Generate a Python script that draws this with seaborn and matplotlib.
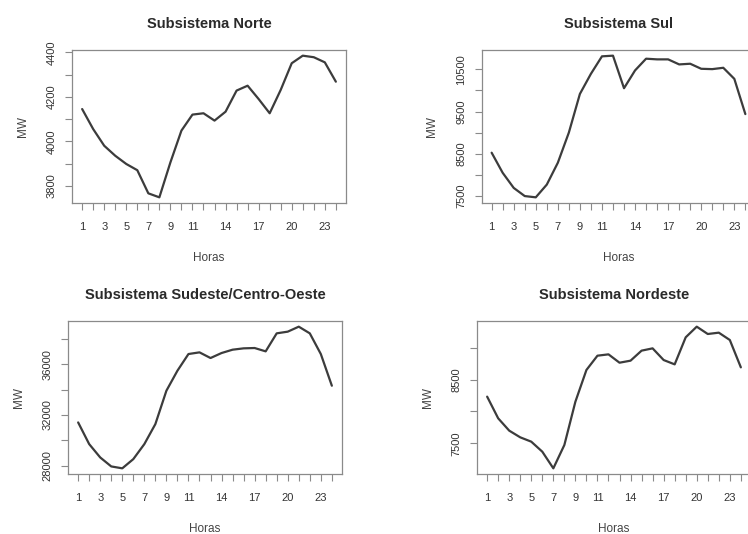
import numpy as np
import pandas as pd
import seaborn as sns
import matplotlib
matplotlib.use("Agg")
import matplotlib.pyplot as plt

# carga horaria por subsistema (MW)
horas = list(range(1, 25))
norte = [4145, 4055, 3980, 3935, 3898, 3870, 3766, 3748, 3905, 4048, 4120, 4126,
         4093, 4133, 4228, 4250, 4190, 4126, 4231, 4351, 4385, 4378, 4355, 4268]
sul = [8521, 8043, 7684, 7490, 7460, 7763, 8282, 9000, 9918, 10397, 10812, 10828,
       10054, 10477, 10756, 10740, 10740, 10620, 10636, 10516, 10508, 10540, 10277, 9439]
sudeste = [31419, 29710, 28658, 27950, 27800, 28526, 29710, 31288, 33917, 35495, 36810, 36942,
           36495, 36889, 37152, 37258, 37284, 37021, 38441, 38573, 38967, 38441, 36810, 34312]
nordeste = [8232, 7892, 7699, 7594, 7526, 7369, 7108, 7474, 8153, 8650, 8874, 8895,
            8764, 8796, 8953, 8989, 8806, 8738, 9162, 9329, 9214, 9235, 9120, 8691]

titulos = ["Subsistema Norte", "Subsistema Sul",
           "Subsistema Sudeste/Centro-Oeste", "Subsistema Nordeste"]
xlabels = [1, 3, 5, 7, 9, 11, 14, 17, 20, 23]
# ticks do eixo y (todos) e os que recebem rotulo
yticks = [[3800, 3900, 4000, 4100, 4200, 4300, 4400],
          [7500, 8000, 8500, 9000, 9500, 10000, 10500],
          [28000, 30000, 32000, 34000, 36000, 38000],
          [7500, 8000, 8500, 9000]]
ylabeled = [[3800, 4000, 4200, 4400],
            [7500, 8500, 9500, 10500],
            [28000, 32000, 36000],
            [7500, 8500]]

sns.set_style("white")
plt.rcParams['font.family'] = ['Liberation Sans', 'DejaVu Sans']

W, H = 748, 534
fig = plt.figure(figsize=(W / 100, H / 100), dpi=100)

# caixas em pixels: left, top, right, bottom
caixas = [(72, 50, 346, 203), (481.5, 50, 755.5, 203),
          (68, 321, 342, 474), (477, 321, 751, 474)]

series = [norte, sul, sudeste, nordeste]
linecol = "#3c3c3c"
boxcol = "#8a8a8a"

for i, (vals, (l, t, r, b)) in enumerate(zip(series, caixas)):
    ax = fig.add_axes([l / W, 1 - b / H, (r - l) / W, (b - t) / H])
    df = pd.DataFrame({"Horas": horas, "MW": vals})
    sns.lineplot(data=df, x="Horas", y="MW", ax=ax, color=linecol, linewidth=1.6)

    lo, hi = min(vals), max(vals)
    pad = 0.04 * (hi - lo)
    ax.set_ylim(lo - pad, hi + pad)
    ax.set_xlim(1 - 0.04 * 23, 24 + 0.04 * 23)

    ax.set_xticks(horas)
    ax.set_xticklabels([str(h) if h in xlabels else "" for h in horas])
    ax.set_yticks(yticks[i])
    ax.set_yticklabels([str(v) if v in ylabeled[i] else "" for v in yticks[i]],
                       rotation=90, va="center")

    ax.tick_params(axis="both", which="major", direction="out", length=5,
                   width=0.8, color=boxcol, labelsize=8, labelcolor="#333333",
                   bottom=True, left=True)
    ax.tick_params(axis="x", pad=9)
    ax.tick_params(axis="y", pad=6)

    for s in ax.spines.values():
        s.set_color(boxcol)
        s.set_linewidth(0.9)

    ax.set_title(titulos[i], fontsize=10.5, fontweight="bold", color="#2a2a2a", pad=16)
    ax.set_xlabel("Horas", fontsize=8.5, color="#444444", labelpad=14)
    ax.set_ylabel("MW", fontsize=8.5, color="#444444", labelpad=13)

fig.savefig("out.png", dpi=100, facecolor="white")
